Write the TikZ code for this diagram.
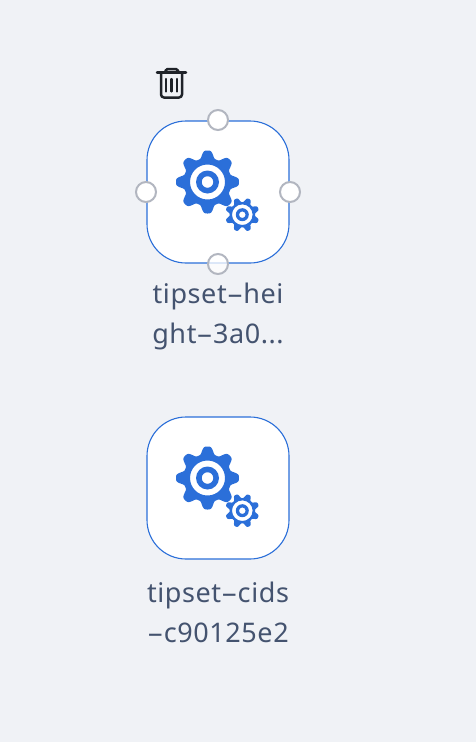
\documentclass[tikz,border=0pt]{standalone}
\usepackage{fontspec}
\setmainfont{Noto Sans}[LetterSpace=2.2]
\definecolor{bgc}{HTML}{F0F2F6}
\definecolor{blu}{HTML}{2B6FD9}
\definecolor{handlec}{HTML}{B2B6C0}
\definecolor{txtc}{HTML}{44536F}
\definecolor{inkc}{HTML}{1F2329}
\newcommand{\hy}{\scalebox{1.9}[1]{-}}
% #1 centre x, #2 centre y, #3 body radius, #4 tooth height, #5 rotation, #6 outer ring, #7 inner ring, #8 hole
\newcommand{\gearicon}[8]{%
  \fill[blu,even odd rule]
    plot[domain=0:360,samples=361,smooth,variable=\t]
      ({#1+(#3+#4*toothf(8*(\t-#5)))*cos(\t)},
       {#2+(#3+#4*toothf(8*(\t-#5)))*sin(\t)}) -- cycle
    (#1,#2) circle[radius=#6]
    (#1,#2) circle[radius=#7]
    (#1,#2) circle[radius=#8];
}
\tikzset{
  x=1pt,y=-1pt,
  declare function={toothf(\a)=pow(0.5+0.5*cos(\a),2)*(3-2*(0.5+0.5*cos(\a)));},
  tile/.style={draw=blu,line width=1.1pt,fill=white,rounded corners=39pt},
  handle/.style={circle,draw=handlec,line width=2pt,fill=white,minimum size=20pt,inner sep=0pt},
  caption/.style={text=txtc,font=\fontsize{27}{40}\selectfont,align=center,inner sep=0pt},
  trash/.style={draw=inkc,line width=2.5pt,line join=round,line cap=round},
  trashbar/.style={draw=inkc,line width=2.2pt,line cap=round},
}
\begin{document}
\begin{tikzpicture}
\fill[bgc] (0,0) rectangle (476,742);
\useasboundingbox (0,0) rectangle (476,742);

% trash icon
\draw[trash] (157,72.5) -- (186,72.5);
\draw[trash] (165.5,72.5) -- (165.5,70.5) to[out=-90,in=180] (167.5,69) -- (176,69) to[out=0,in=-90] (178,70.5) -- (178,72.5);
\draw[trash,rounded corners=3pt] (161,72.5) -- (161,97.5) -- (182,97.5) -- (182,72.5);
\draw[trashbar] (166.2,79) -- (166.2,91.5);
\draw[trashbar] (171.5,79) -- (171.5,91.5);
\draw[trashbar] (176.8,79) -- (176.8,91.5);

% first tile
\draw[tile] (147,121) rectangle (289,263);
\gearicon{207.5}{182}{24}{7.5}{90}{17.5}{11.5}{5.8}
\gearicon{242.3}{214.7}{12.7}{4.4}{22.5}{10.3}{6.5}{3.3}
\node[handle] (htop) at (218,120) {};
\node[handle] (hleft) at (146,192) {};
\node[handle] (hright) at (290,192) {};
\node[handle,fill opacity=0.75] (hbottom) at (218,264) {};
\node[caption] (label1) at (218,316) {tipset\hy hei\\ght\hy 3a0...};

% second tile
\draw[tile] (147,417) rectangle (289,559);
\gearicon{207.5}{478}{24}{7.5}{90}{17.5}{11.5}{5.8}
\gearicon{242.3}{510.7}{12.7}{4.4}{22.5}{10.3}{6.5}{3.3}
\node[caption] (label2) at (218,612) {tipset\hy cids\\\hy c90125e2};
\end{tikzpicture}
\end{document}
